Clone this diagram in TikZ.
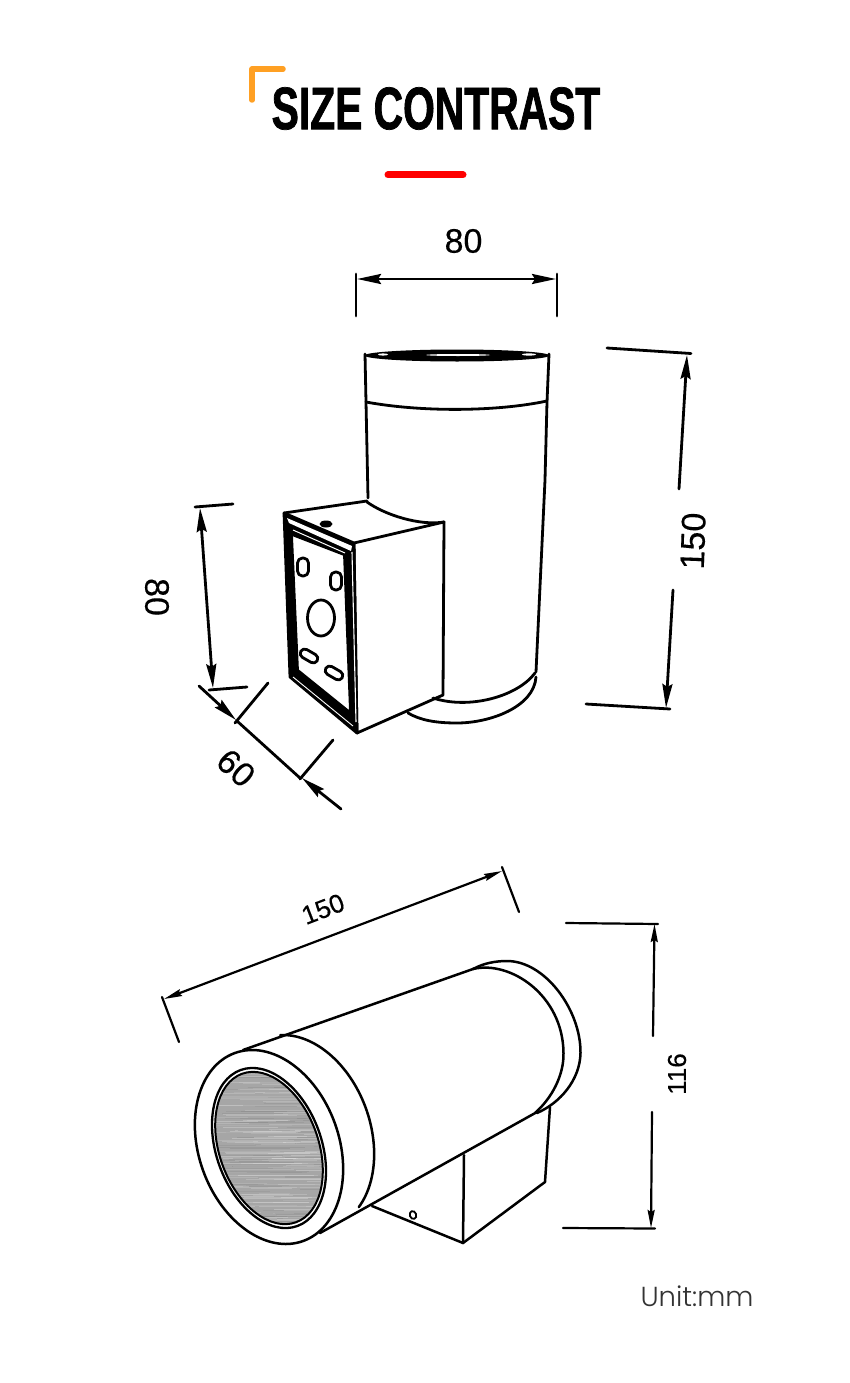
\documentclass[tikz,border=0pt]{standalone}
\usepackage{fontspec}
\usetikzlibrary{arrows.meta}
\setmainfont[FakeBold=0.3]{Liberation Sans}
\newfontfamily\titlefont[FakeStretch=0.68,FakeBold=1.2]{Liberation Sans Bold}
\newfontfamily\unitfont[UprightFont={* Light}]{Poppins}
\definecolor{accent}{HTML}{FFA023}
\definecolor{lensgrey}{HTML}{A6A6A6}
\tikzset{
  body/.style={line width=2.8pt,line cap=round,line join=round},
  lowbody/.style={line width=2.5pt,line cap=round,line join=round},
  dimline/.style={line width=2.8pt,line cap=round},
  dimthin/.style={line width=2.2pt,line cap=round},
  bigtip/.tip={Stealth[length=24pt,width=10pt,inset=3pt]},
  smalltip/.tip={Stealth[length=18pt,width=7pt,inset=2pt]},
  dimtip/.style={-bigtip},
  dimboth/.style={bigtip-bigtip},
  thintip/.style={-smalltip},
  thinboth/.style={smalltip-smalltip},
  dimtext/.style={inner sep=0pt,font=\fontsize{34}{34}\selectfont},
  dimsmall/.style={inner sep=0pt,font=\fontsize{26}{26}\selectfont},
}
\begin{document}
\begin{tikzpicture}[x=1pt,y=-1pt]
\useasboundingbox (0,0) rectangle (850,1383);
\fill[white] (0,0) rectangle (850,1383);

% --- header
\draw[accent,line width=5.5pt,line cap=round,line join=round] (283,69) -- (252,69) -- (252,100);
\node[inner sep=0pt,text=black] (title) at (436,108.5) {\fontsize{60}{60}\titlefont SIZE CONTRAST};
\draw[red,line width=7pt,line cap=round] (388,175) -- (463,175);

% --- upright lamp: cylinder
\fill[black] (457,355.5) ellipse[x radius=92.5,y radius=6];
\fill[white] (383,354.5) ellipse[x radius=5,y radius=1.1];
\fill[white] (458,355) ellipse[x radius=32,y radius=1];
\fill[white] (529,354.5) ellipse[x radius=7,y radius=1.1];
\draw[body] (365,354) -- (366,402) -- (368,498);
\draw[body] (549,354) -- (547,402) -- (545,480) -- (536,672);
\draw[body] (366,402) .. controls (420,412) and (495,412) .. (547,401);
\draw[body] (535,673) .. controls (518,696) and (470,710) .. (433,698);
\draw[body] (536,677) .. controls (534,707) and (490,723) .. (457,723) .. controls (435,723) and (420,720) .. (408,713);

% --- upright lamp: mounting box
\draw[body] (284,513) -- (367,501);
\draw[body] (367,502) .. controls (385,515) and (420,526) .. (444,522);
\draw[body] (354,543) -- (444,522) -- (443,695) -- (357,733) -- cycle;
\fill[black] (284,513) -- (354,543) -- (357,733) -- (290,677) -- cycle;
\draw[body] (284,513) -- (354,543) -- (357,733) -- (290,677) -- cycle;
\fill[white] (287,518) -- (352,546) -- (351,551) -- (289,523) -- cycle;
\draw[white,line width=1pt] (293,530) -- (345,553);
\fill[white] (292,535) -- (344,555) -- (350,712) -- (298,670) -- cycle;
\draw[line width=1.8pt] (292,535) -- (344,555) -- (350,712) -- (298,670) -- cycle;
\draw[white,line width=1.1pt] (352,552) -- (356,722);
\draw[white,line width=.9pt] (293,677) -- (353,726);
\fill[black] (326,524) ellipse[x radius=6.5,y radius=3.5];
\draw[body,rounded corners=5pt] (297.5,558) rectangle (308.5,576);
\draw[body,rounded corners=5pt] (330.5,572) rectangle (341.5,590);
\draw[body] (321,618) ellipse[x radius=13.5,y radius=18];
\begin{scope}[shift={(309,656)},rotate=-30]
  \draw[body,rounded corners=4.5pt] (-9.5,-4.5) rectangle (9.5,4.5);
\end{scope}
\begin{scope}[shift={(334,673)},rotate=-30]
  \draw[body,rounded corners=4.5pt] (-9.5,-4.5) rectangle (9.5,4.5);
\end{scope}

% --- upper dimensions
\node[dimtext] (w80) at (463.5,241) {80};
\draw[dimline] (356,274) -- (356,316);
\draw[dimline] (557,274) -- (557,316);
\draw[dimline,dimboth] (357,279) -- (556,279);

\draw[dimline] (607,348) -- (691,353.5);
\draw[dimline] (586,704) -- (670,709);
\draw[dimline,dimtip] (679,489) -- (687,355);
\draw[dimline,dimtip] (673,590) -- (666,708);
\node[dimtext,rotate=88] (h150) at (693,541) {150};

\draw[dimline] (195,507) -- (233,504);
\draw[dimline] (209,690) -- (247,687);
\draw[dimline,dimboth] (200,508) -- (213,688);
\node[dimtext,rotate=-90] (d80) at (157,597) {80};

\draw[dimline] (235,723) -- (268,683);
\draw[dimline] (300,779) -- (333,740);
\draw[dimline] (237,721) -- (300,778);
\draw[dimline,dimtip] (199,686) -- (236,720);
\draw[dimline,dimtip] (341,809) -- (302,778);
\node[dimtext,rotate=-42] (d60) at (236,768) {60};

% --- lying lamp
\draw[lowbody] (243,1050) -- (473,969);
\draw[lowbody] (320,1233) -- (537,1112);
\draw[lowbody] (473,969) .. controls (510,960) and (563,995) .. (563.5,1053) .. controls (564,1075) and (552,1098) .. (535,1113);
\draw[lowbody] (473,969) .. controls (484,963) and (496,961) .. (507,961) .. controls (545,961) and (581,1010) .. (580.5,1053) .. controls (580,1080) and (560,1103) .. (537,1113);
\draw[lowbody] plot[domain=-65:78,samples=60,variable=\t] ({300+70*cos(\t)*0.94-100*sin(\t)*0.342},{1132-70*cos(\t)*0.342-100*sin(\t)*0.94});
\draw[lowbody] (269,1147) ellipse[x radius=70,y radius=100,rotate=20];
\draw[line width=2.3pt] (269,1148) ellipse[x radius=52.6,y radius=83,rotate=20];
\begin{scope}
  \clip (269,1148) ellipse[x radius=49.5,y radius=79,rotate=20];
  \fill[lensgrey] (190,1060) rectangle (350,1240);
  \pgfmathsetseed{7}
  \foreach \k in {1,...,260}{
    \pgfmathsetmacro{\py}{1064+rnd*170}
    \pgfmathsetmacro{\px}{205+rnd*110}
    \pgfmathsetmacro{\pl}{30+rnd*70}
    \pgfmathsetmacro{\po}{0.08+rnd*0.17}
    \pgfmathtruncatemacro{\pc}{rnd<0.65 ? 100 : 45}
    \draw[white!\pc!black,opacity=\po,line width=.8pt] (\px,\py) -- ++(\pl,0);
  }
\end{scope}
\draw[line width=2pt] (269,1148) ellipse[x radius=49.5,y radius=79,rotate=20];

\draw[lowbody] (372,1206) -- (463,1243) -- (545,1182) -- (550,1107);
\draw[lowbody] (464,1155) -- (463,1243);
\draw[line width=1.8pt,rotate around={20:(413,1215)}] (413,1215) ellipse[x radius=3.2,y radius=4];

% --- lower dimensions
\draw[dimthin] (162,997) -- (179,1042);
\draw[dimthin] (502,867) -- (519,912);
\draw[dimthin,thinboth] (164,999) -- (502,871);
\node[dimsmall,rotate=21] (l150) at (323,909) {150};

\draw[dimthin] (566,923) -- (658,924);
\draw[dimthin] (563,1228) -- (655,1228.5);
\draw[dimthin,thintip] (653,1036) -- (654.5,924);
\draw[dimthin,thintip] (652,1112) -- (651,1228);
\node[dimsmall,rotate=90] (h116) at (677,1074) {116};

\node[inner sep=0pt,anchor=base,text=black!80] (unit) at (697,1306) {\fontsize{27.5}{28}\unitfont Unit:mm};
\end{tikzpicture}
\end{document}
